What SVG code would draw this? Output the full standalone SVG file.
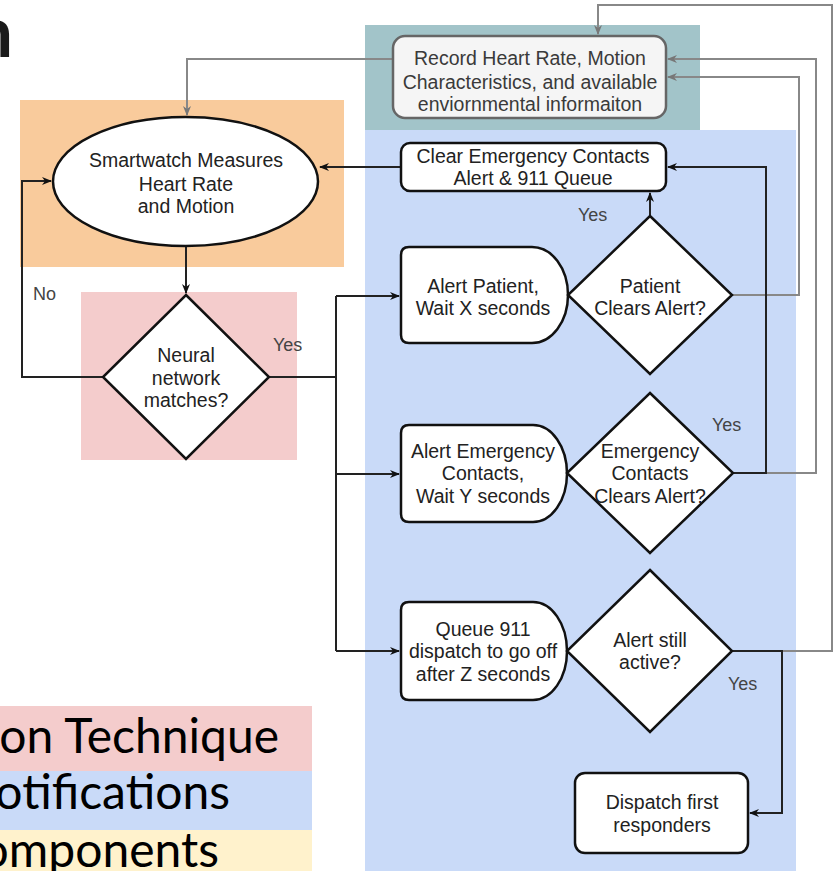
<svg xmlns="http://www.w3.org/2000/svg" width="837" height="871" viewBox="0 0 837 871">
<style>
.t{font-family:"Liberation Sans",Arial,sans-serif;font-size:19.5px;fill:#222;text-anchor:middle}
.g{fill:#3a3a3a}
.lbl{font-family:"Liberation Sans",Arial,sans-serif;font-size:18px;fill:#444;}
.leg{font-family:Lato,"Liberation Sans",sans-serif;font-size:48px;fill:#000;text-anchor:end}
.shape{fill:#fff;stroke:#111;stroke-width:2.5}
.ck{fill:none;stroke:#222;stroke-width:2}
.cg{fill:none;stroke:#888;stroke-width:2}
</style>
<defs>
<marker id="ab" viewBox="0 0 10 8" refX="9" refY="4" markerWidth="10" markerHeight="8" markerUnits="userSpaceOnUse" orient="auto">
<path d="M0,0 L10,4 L0,8 L3,4 Z" fill="#111"/>
</marker>
<marker id="ag" viewBox="0 0 10 8" refX="9" refY="4" markerWidth="10" markerHeight="8" markerUnits="userSpaceOnUse" orient="auto">
<path d="M0,0 L10,4 L0,8 L3,4 Z" fill="#777"/>
</marker>
</defs>
<rect width="837" height="871" fill="#fff"/>
<g id="regions">
<rect x="20" y="100" width="324" height="167" fill="#f9cb9c"/>
<rect x="81" y="292" width="216" height="168" fill="#f4cccc"/>
<rect x="365" y="25" width="335" height="105" fill="#a2c4c9"/>
<rect x="365" y="130" width="431" height="741" fill="#c9daf8"/>
</g>
<g id="legend">
<rect x="0" y="706" width="312" height="65" fill="#f4cccc"/>
<rect x="0" y="771" width="312" height="59" fill="#c9daf8"/>
<rect x="0" y="830" width="312" height="41" fill="#fff2cc"/>
<text class="leg" x="279" y="753">on Technique</text>
<text class="leg" x="230" y="809">otifications</text>
<text class="leg" x="219" y="867">omponents</text>
</g>
<text x="13" y="57" font-family="Lato,'Liberation Sans',sans-serif" font-weight="bold" font-size="70" fill="#1a1a1a" text-anchor="end">n</text>
<g id="connectors">
<path class="ck" d="M186,246 V293" marker-end="url(#ab)"/>
<path class="ck" d="M103,377 H22 V181 H51" marker-end="url(#ab)"/>
<path class="ck" d="M269,377 H336"/>
<path class="ck" d="M336,296 V651"/>
<path class="ck" d="M336,296 H399" marker-end="url(#ab)"/>
<path class="ck" d="M336,474 H399" marker-end="url(#ab)"/>
<path class="ck" d="M336,651 H399" marker-end="url(#ab)"/>
<path class="ck" d="M650,216 V193" marker-end="url(#ab)"/>
<path class="ck" d="M401,167 H320" marker-end="url(#ab)"/>
<path class="cg" d="M393,59 H187 V115" marker-end="url(#ag)"/>
<path class="cg" d="M732,295 H799 V77 H668" marker-end="url(#ag)"/>
<path class="cg" d="M733,473 H816 V59 H668" marker-end="url(#ag)"/>
<path class="cg" d="M732,651 H832 V5 H598 V34" marker-end="url(#ag)"/>
<path class="ck" d="M733,473 H766 V167 H668" marker-end="url(#ab)"/>
<path class="ck" d="M732,651 H782 V813 H750" marker-end="url(#ab)"/>
<text class="lbl" x="33" y="300">No</text>
<text class="lbl" x="273" y="351">Yes</text>
<text class="lbl" x="578" y="221">Yes</text>
<text class="lbl" x="712" y="431">Yes</text>
<text class="lbl" x="728" y="690">Yes</text>
</g>
<g id="record">
<rect x="393" y="36" width="273" height="82" rx="12" fill="#f5f5f5" stroke="#666" stroke-width="2.5"/>
<text class="t g" x="530" y="65">Record Heart Rate, Motion</text>
<text class="t g" x="530" y="89">Characteristics, and available</text>
<text class="t g" x="530" y="111">enviornmental informaiton</text>
</g>
<g id="smartwatch">
<ellipse class="shape" cx="185.5" cy="181.5" rx="132.5" ry="64.5"/>
<text class="t" x="186" y="167">Smartwatch Measures</text>
<text class="t" x="186" y="191">Heart Rate</text>
<text class="t" x="186" y="213">and Motion</text>
</g>
<g id="neural">
<path class="shape" d="M186,295 L269,377 L186,459 L103,377 Z"/>
<text class="t" x="186" y="362">Neural</text>
<text class="t" x="186" y="385">network</text>
<text class="t" x="186" y="407">matches?</text>
</g>
<g id="clear">
<rect class="shape" x="401" y="143" width="265" height="48" rx="9"/>
<text class="t" x="533" y="163">Clear Emergency Contacts</text>
<text class="t" x="533" y="185">Alert &amp; 911 Queue</text>
</g>
<g id="alertPatient">
<path class="shape" d="M409,247 H532 A36,48 0 0 1 532,343 H409 Q401,343 401,335 V255 Q401,247 409,247 Z"/>
<text class="t" x="483" y="293">Alert Patient,</text>
<text class="t" x="483" y="315">Wait X seconds</text>
</g>
<g id="patientClears">
<path class="shape" d="M650,216 L732,295 L650,374 L568,295 Z"/>
<text class="t" x="650" y="293">Patient</text>
<text class="t" x="650" y="315">Clears Alert?</text>
</g>
<g id="alertEmergency">
<path class="shape" d="M409,425 H533 A34,48.5 0 0 1 533,522 H409 Q401,522 401,514 V433 Q401,425 409,425 Z"/>
<text class="t" x="483" y="458">Alert Emergency</text>
<text class="t" x="483" y="480">Contacts,</text>
<text class="t" x="483" y="503">Wait Y seconds</text>
</g>
<g id="emergencyClears">
<path class="shape" d="M650,393 L733,473 L650,553 L567,473 Z"/>
<text class="t" x="650" y="458">Emergency</text>
<text class="t" x="650" y="480">Contacts</text>
<text class="t" x="650" y="503">Clears Alert?</text>
</g>
<g id="queue911">
<path class="shape" d="M409,602 H533 A34,49 0 0 1 533,700 H409 Q401,700 401,692 V610 Q401,602 409,602 Z"/>
<text class="t" x="483" y="636">Queue 911</text>
<text class="t" x="483" y="658">dispatch to go off</text>
<text class="t" x="483" y="681">after Z seconds</text>
</g>
<g id="alertActive">
<path class="shape" d="M650,570 L732,651 L650,732 L567,651 Z"/>
<text class="t" x="650" y="647">Alert still</text>
<text class="t" x="650" y="669">active?</text>
</g>
<g id="dispatch">
<rect class="shape" x="575" y="773" width="173" height="80" rx="10"/>
<text class="t" x="662" y="809">Dispatch first</text>
<text class="t" x="662" y="832">responders</text>
</g>
</svg>
